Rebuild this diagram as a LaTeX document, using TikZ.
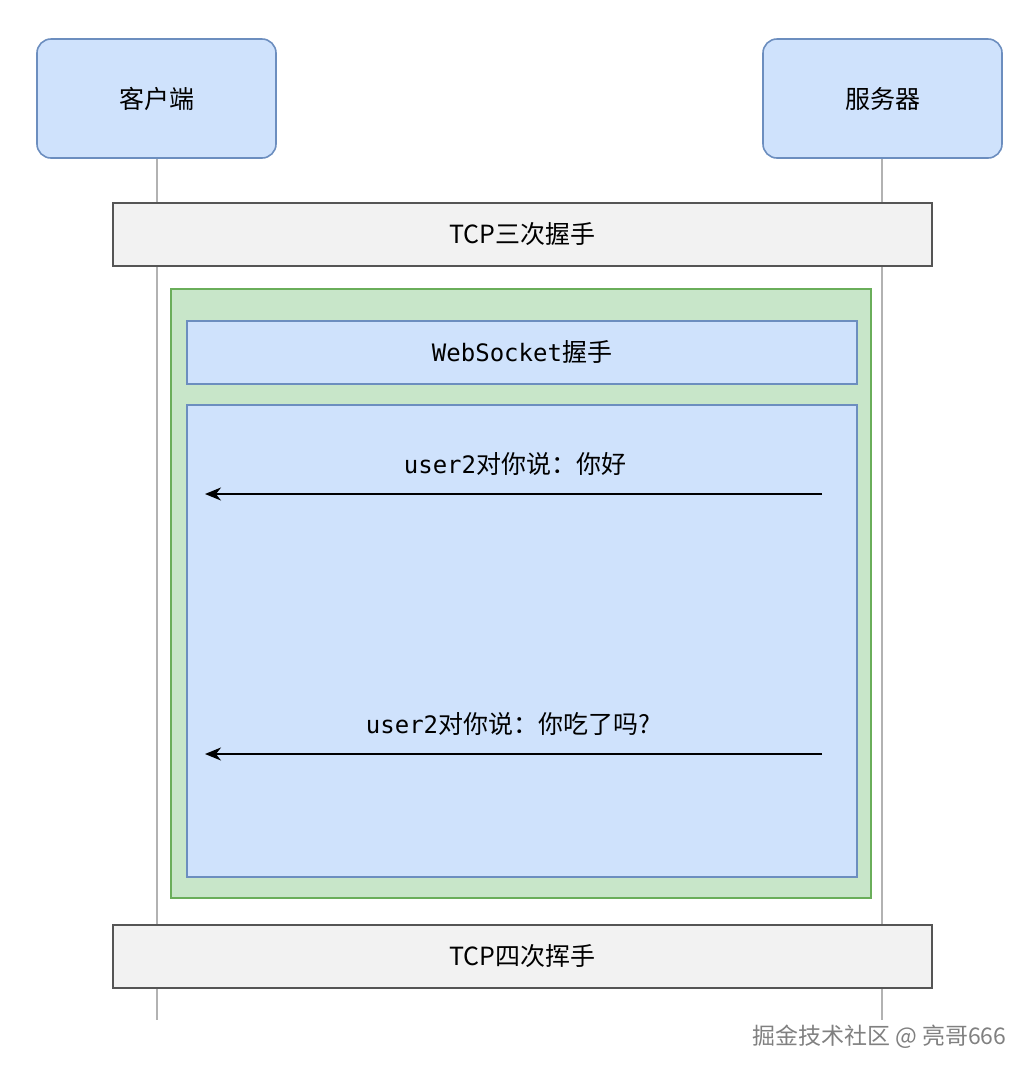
\documentclass[tikz,border=0pt]{standalone}
\usepackage{fontspec}
\setmainfont{Noto Sans CJK SC}
\newfontfamily\monocjk{DejaVu Sans Mono}
\usetikzlibrary{arrows.meta}
\definecolor{bfill}{HTML}{CFE2FC}
\definecolor{bline}{HTML}{6C8EBF}
\definecolor{gfill}{HTML}{C8E6C9}
\definecolor{gline}{HTML}{6AAE5A}
\definecolor{grfill}{HTML}{F2F2F2}
\definecolor{grline}{HTML}{555555}
\begin{document}
\begin{tikzpicture}[x=1pt,y=-1pt,
  actor/.style={draw=bline,fill=bfill,rounded corners=14pt,line width=1.6pt,minimum width=239pt,minimum height=119pt,font=\fontsize{25}{28}\selectfont},
  bar/.style={draw=grline,fill=grfill,line width=1.5pt,minimum width=819pt,minimum height=63pt,font=\fontsize{25}{28}\selectfont},
  msg/.style={-{Stealth[length=16pt,width=13pt,inset=5pt]},line width=1.6pt},
  lbl/.style={font=\fontsize{25}{28}\selectfont}]
\useasboundingbox (0,0) rectangle (1036,1080);
\draw[gray!60,line width=1.3pt] (157,158) -- (157,1020);
\draw[gray!60,line width=1.3pt] (882,158) -- (882,1020);
\node[actor] (c) at (156.5,98.5) {客户端};
\node[actor] (s) at (882.5,98.5) {服务器};
\node[bar] (t3) at (522.5,234.5) {TCP三次握手};
\node[draw=gline,fill=gfill,line width=1.5pt,minimum width=700pt,minimum height=609pt] (g) at (521,593.5) {};
\node[draw=bline,fill=bfill,line width=1.5pt,minimum width=670pt,minimum height=63pt,font=\fontsize{25}{28}\selectfont] (ws) at (522,352.5) {{\monocjk\fontsize{24}{28}\selectfont WebSocket}握手};
\node[draw=bline,fill=bfill,line width=1.5pt,minimum width=670pt,minimum height=472pt] (m) at (522,641) {};
\coordinate (a1s) at (822,494); \coordinate (a1e) at (205,494);
\coordinate (a2s) at (822,754); \coordinate (a2e) at (205,754);
\draw[msg] (a1s) -- (a1e);
\draw[msg] (a2s) -- (a2e);
\node[lbl] (l1) at (515,464) {{\monocjk\fontsize{24}{28}\selectfont user2}对你说：你好};
\node[lbl] (l2) at (508,724) {{\monocjk\fontsize{24}{28}\selectfont user2}对你说：你吃了吗?};
\node[bar] (t4) at (522.5,956.5) {TCP四次挥手};
\node[font=\fontsize{23}{26}\selectfont,text=gray,anchor=east] (wm) at (1010,1037) {掘金技术社区 @ 亮哥666};
\end{tikzpicture}
\end{document}
